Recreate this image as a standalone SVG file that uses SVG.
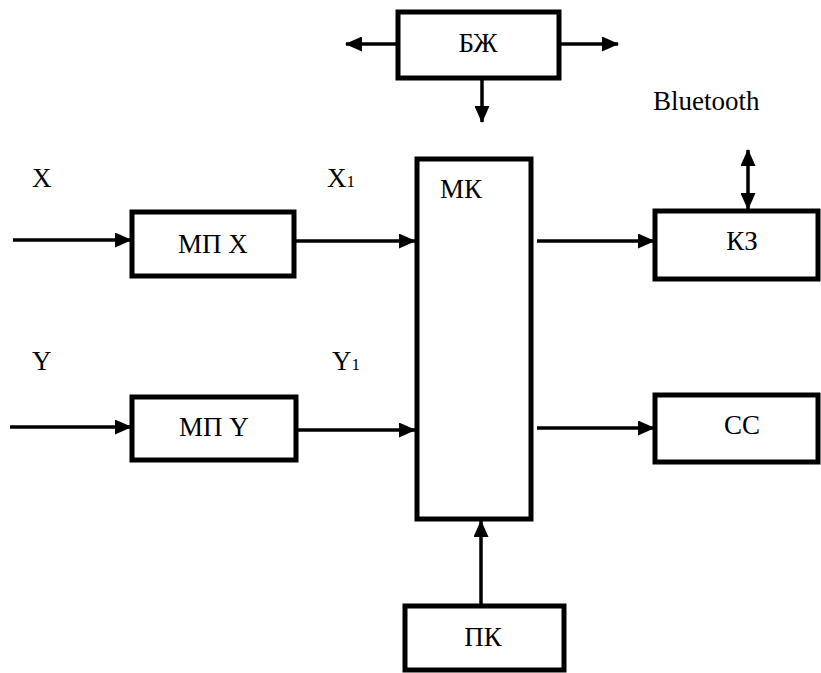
<svg xmlns="http://www.w3.org/2000/svg" width="821" height="673" viewBox="0 0 821 673">
<defs>
<marker id="ah" markerUnits="userSpaceOnUse" markerWidth="17" markerHeight="15" refX="16" refY="7.5" orient="auto-start-reverse">
<path d="M0,0 L17,7.5 L0,15 Z" fill="#000"/>
</marker>
</defs>
<rect width="821" height="673" fill="#fff"/>
<g id="connectors" stroke="#000" stroke-width="3.5" fill="none">
<line x1="396" y1="44" x2="346" y2="44" marker-end="url(#ah)"/>
<line x1="561" y1="44" x2="618" y2="44" marker-end="url(#ah)"/>
<line x1="482" y1="80" x2="482" y2="122" marker-end="url(#ah)"/>
<line x1="13" y1="240" x2="131" y2="240" marker-end="url(#ah)"/>
<line x1="296" y1="241" x2="415" y2="241" marker-end="url(#ah)"/>
<line x1="10" y1="427" x2="131" y2="427" marker-end="url(#ah)"/>
<line x1="298" y1="430" x2="415" y2="430" marker-end="url(#ah)"/>
<line x1="537" y1="241" x2="654" y2="241" marker-end="url(#ah)"/>
<line x1="537" y1="428" x2="654" y2="428" marker-end="url(#ah)"/>
<line x1="748" y1="150" x2="748" y2="209" marker-start="url(#ah)" marker-end="url(#ah)"/>
<line x1="481" y1="604" x2="481" y2="521" marker-end="url(#ah)"/>
</g>
<g id="bzh">
<rect x="398" y="12" width="161" height="66" fill="#fff" stroke="#000" stroke-width="5"/>
<text x="478" y="52" font-size="27" font-family="Times New Roman, Liberation Serif, serif" text-anchor="middle">БЖ</text>
</g>
<g id="mpx">
<rect x="132" y="212" width="162" height="64" fill="#fff" stroke="#000" stroke-width="5"/>
<text x="213" y="253" font-size="27" font-family="Times New Roman, Liberation Serif, serif" text-anchor="middle">МП X</text>
</g>
<g id="mpy">
<rect x="132" y="397" width="164" height="63" fill="#fff" stroke="#000" stroke-width="5"/>
<text x="214" y="436" font-size="27" font-family="Times New Roman, Liberation Serif, serif" text-anchor="middle">МП Y</text>
</g>
<g id="mk">
<rect x="417" y="159" width="114" height="360" fill="#fff" stroke="#000" stroke-width="5"/>
<text x="440" y="198" font-size="27" font-family="Times New Roman, Liberation Serif, serif">МК</text>
</g>
<g id="kz">
<rect x="655" y="211" width="163" height="68" fill="#fff" stroke="#000" stroke-width="5"/>
<text x="742" y="250" font-size="27" font-family="Times New Roman, Liberation Serif, serif" text-anchor="middle">КЗ</text>
</g>
<g id="cc">
<rect x="655" y="395" width="163" height="67" fill="#fff" stroke="#000" stroke-width="5"/>
<text x="742" y="434" font-size="27" font-family="Times New Roman, Liberation Serif, serif" text-anchor="middle">СС</text>
</g>
<g id="pk">
<rect x="405" y="606" width="159" height="64" fill="#fff" stroke="#000" stroke-width="5"/>
<text x="483" y="646" font-size="27" font-family="Times New Roman, Liberation Serif, serif" text-anchor="middle">ПК</text>
</g>
<g id="labels">
<text x="32" y="187" font-size="27" font-family="Times New Roman, Liberation Serif, serif">X</text>
<text x="327" y="187" font-size="27" font-family="Times New Roman, Liberation Serif, serif">X<tspan font-size="17">1</tspan></text>
<text x="32" y="370" font-size="27" font-family="Times New Roman, Liberation Serif, serif">Y</text>
<text x="332" y="370" font-size="27" font-family="Times New Roman, Liberation Serif, serif">Y<tspan font-size="17">1</tspan></text>
<text x="653" y="110" font-size="27" font-family="Times New Roman, Liberation Serif, serif">Bluetooth</text>
</g>
</svg>
